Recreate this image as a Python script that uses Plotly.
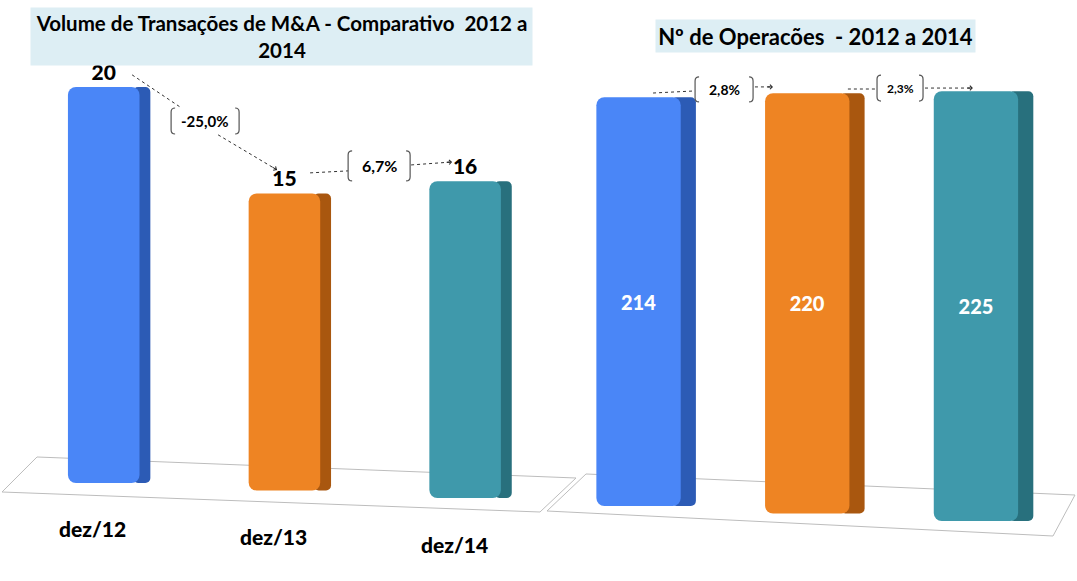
import plotly.graph_objects as go

W, H = 1077, 581

# data
vol_cats = ["dez/12", "dez/13", "dez/14"]
vol_values = [20, 15, 16]
vol_changes = ["-25,0%", "6,7%"]

ops_cats = ["2012", "2013", "2014"]
ops_values = [214, 220, 225]
ops_changes = ["2,8%", "2,3%"]

front_colors = ["#4A86F7", "#EE8423", "#3F99AB"]
side_colors = ["#2C5BB5", "#A9570F", "#28707D"]
FONT = "Lato"

fig = go.Figure()


def add_bars(cats, vals, tilt, xa, ya, front_w, side_w, **text_kw):
    # fake perspective: each bar sits a little lower than the previous one
    base = [-tilt * i for i in range(len(vals))]
    fig.add_trace(go.Bar(
        x=cats, y=vals, base=base, width=side_w * 1.6, offset=front_w / 2 - side_w * 0.6,
        marker=dict(color=side_colors, cornerradius=5, line=dict(width=0)),
        xaxis=xa, yaxis=ya, hoverinfo="skip",
    ))
    fig.add_trace(go.Bar(
        x=cats, y=vals, base=base, width=front_w, offset=-front_w / 2,
        marker=dict(color=front_colors, cornerradius=8, line=dict(width=0)),
        text=[str(v) for v in vals], xaxis=xa, yaxis=ya, hoverinfo="skip",
        cliponaxis=False, **text_kw,
    ))
    for c, b in zip(cats, base):
        fig.add_annotation(x=c, y=b, xref=xa, yref=ya, text=c, showarrow=False,
                           xshift=-11, yshift=-46,
                           font=dict(family=FONT, size=21, color="black", weight=900))
    return base


TILT_L, TILT_R = 0.38, 3.93
add_bars(vol_cats, vol_values, TILT_L, "x", "y", 0.396, 0.06,
         textposition="outside",
         textfont=dict(family=FONT, size=21, color="black", weight=900))
add_bars(ops_cats, ops_values, TILT_R, "x2", "y2", 0.5, 0.09,
         textposition="inside", insidetextanchor="middle",
         textfont=dict(family=FONT, size=20, color="white", weight=900))

shapes = []


def dashed(xa, ya, x0, y0, x1, y1):
    shapes.append(dict(type="line", xref=xa, yref=ya, x0=x0, y0=y0, x1=x1, y1=y1,
                       line=dict(color="#333333", width=1, dash="dot")))


def head(xa, ya, x, y, ax, ay):
    fig.add_annotation(x=x, y=y, xref=xa, yref=ya, ax=ax, ay=ay, text="",
                       showarrow=True, arrowhead=4, arrowsize=0.9, arrowwidth=1,
                       arrowcolor="#222222", standoff=0)


def bracket_label(xa, ya, x, y, text, w, h, size):
    fig.add_annotation(x=x, y=y, xref=xa, yref=ya, text=text, showarrow=False,
                       font=dict(family=FONT, size=size, color="black", weight=700))
    hw, hh, r = w / 2, h / 2, 4
    path = (f"M{-hw + r},{hh} Q{-hw},{hh} {-hw},{hh - r} L{-hw},{-hh + r} "
            f"Q{-hw},{-hh} {-hw + r},{-hh} "
            f"M{hw - r},{hh} Q{hw},{hh} {hw},{hh - r} L{hw},{-hh + r} "
            f"Q{hw},{-hh} {hw - r},{-hh}")
    shapes.append(dict(type="path", xref=xa, yref=ya, xsizemode="pixel",
                       ysizemode="pixel", xanchor=x, yanchor=y, path=path,
                       line=dict(color="#555555", width=1.2)))


# left panel connectors
dashed("x", "y", 0.157, 20.61, 0.422, 18.99)
bracket_label("x", "y", 0.561, 18.28, vol_changes[0], 68, 26, 15)
dashed("x", "y", 0.633, 17.58, 0.959, 15.81)
head("x", "y", 0.959, 15.81, -6, -3.6)
dashed("x", "y", 1.142, 15.66, 1.352, 15.76)
bracket_label("x", "y", 1.524, 16.01, vol_changes[1], 62, 30, 16)
dashed("x", "y", 1.701, 16.06, 1.928, 16.21)
head("x", "y", 1.928, 16.21, -7, 0.4)

# right panel connectors
dashed("x2", "y2", 0.086, 216.2, 0.335, 217.3)
bracket_label("x2", "y2", 0.507, 218.1, ops_changes[0], 58, 25, 14)
dashed("x2", "y2", 0.690, 219.4, 0.797, 219.4)
head("x2", "y2", 0.797, 219.4, -7, 0)
dashed("x2", "y2", 1.241, 218.3, 1.413, 218.3)
bracket_label("x2", "y2", 1.550, 218.8, ops_changes[1], 46, 26, 12)
dashed("x2", "y2", 1.698, 218.8, 1.982, 218.8)
head("x2", "y2", 1.982, 218.8, -7, 0)


# floors (pixel corners -> paper)
def floor(corners):
    pts = [(px / W, 1 - py / H) for px, py in corners]
    path = "M" + " L".join(f"{x:.5f},{y:.5f}" for x, y in pts) + " Z"
    shapes.append(dict(type="path", xref="paper", yref="paper", path=path,
                       fillcolor="white", layer="below",
                       line=dict(color="#BDBDBD", width=1)))


floor([(37, 457), (576, 478), (540, 512), (2, 492)])
floor([(586, 474), (1075, 495), (1053, 536), (547, 511)])

# titles
fig.add_annotation(xref="paper", yref="paper", x=281.5 / W, y=1 - 36.5 / H,
                   xanchor="center", yanchor="middle",
                   text="Volume de Transações de M&A - Comparativo  2012 a<br>2014",
                   showarrow=False, bgcolor="#DDEEF4", width=499, height=55,
                   font=dict(family=FONT, size=20.5, color="black", weight=700))
fig.add_annotation(xref="paper", yref="paper", x=815.5 / W, y=1 - 36 / H,
                   xanchor="center", yanchor="middle",
                   text="Nº de Operacões  - 2012 a 2014",
                   showarrow=False, bgcolor="#DDEEF4", width=317, height=30,
                   font=dict(family=FONT, size=22, color="black", weight=700))

fig.update_layout(
    width=W, height=H, margin=dict(l=0, r=0, t=0, b=0),
    paper_bgcolor="white", plot_bgcolor="rgba(0,0,0,0)",
    showlegend=False, barmode="overlay", shapes=shapes,
    xaxis=dict(domain=[0, 0.5], type="category", range=[-0.574, 2.406], visible=False),
    yaxis=dict(domain=[0, 1], range=[-4.95, 24.39], visible=False),
    xaxis2=dict(domain=[0.5, 1], type="category", range=[-0.593, 2.599],
                visible=False, anchor="y2"),
    yaxis2=dict(domain=[0, 1], range=[-39.27, 264.9], visible=False, anchor="x2"),
)

# page body has a default 8px margin; drop it so the figure sits at 0,0
fig.write_html("out.html", config={"displayModeBar": False},
               post_script="document.body.style.margin='0px';")
